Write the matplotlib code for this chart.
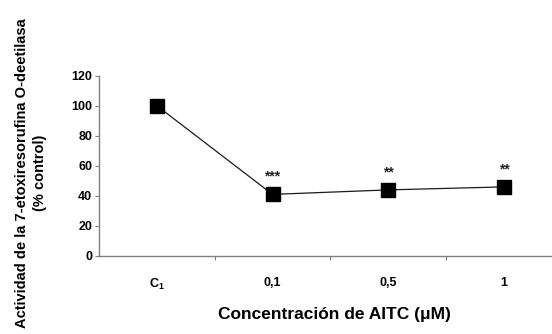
import matplotlib
matplotlib.use("Agg")
import matplotlib.pyplot as plt

plt.rcParams['font.family'] = ['Liberation Sans', 'DejaVu Sans']
plt.rcParams['font.weight'] = 'bold'
plt.rcParams['mathtext.default'] = 'regular'

categories = ["C$_1$", "0,1", "0,5", "1"]
actividad = [100, 41, 44, 46]
significancia = ["", "***", "**", "**"]
y_ticks = [0, 20, 40, 60, 80, 100, 120]

fig = plt.figure(figsize=(5.52, 3.34), dpi=100)
ax = fig.add_axes([99 / 552, 1 - 256 / 334, 1 - 99 / 552, (256 - 75.7) / 334])

x = list(range(len(categories)))
ax.plot(x, actividad, color='#1a1a1a', linewidth=0.9, marker='s',
        markersize=9.5, markerfacecolor='black', markeredgecolor='black')

for xi, yi, s in zip(x, actividad, significancia):
    if s:
        ax.text(xi, yi + 7, s, ha='center', va='bottom', fontsize=10,
                fontweight='bold', color='#222222')

ax.set_xlim(-0.5, 3.415)
ax.set_ylim(0, 120)
ax.set_yticks(y_ticks)
ax.set_yticklabels([str(v) for v in y_ticks], fontsize=9, fontweight='bold')
ax.set_xticks(x)
ax.set_xticklabels(categories, fontsize=9, fontweight='bold')
ax.set_xticks([0.5, 1.5, 2.5], minor=True)

ax.tick_params(axis='x', which='major', length=0, pad=15)
ax.tick_params(axis='x', which='minor', length=3, width=0.8, color='#808080', direction='out')
ax.tick_params(axis='y', which='major', length=3, width=0.8, color='#808080', direction='out', pad=2)

for side in ('top', 'right'):
    ax.spines[side].set_visible(False)
for side in ('left', 'bottom'):
    ax.spines[side].set_color('#808080')
    ax.spines[side].set_linewidth(1.0)

ax.set_xlabel("Concentración de AITC (μM)", fontsize=12.5, fontweight='bold')
ax.xaxis.set_label_coords((334 - 99) / 453, -(314 - 256) / (256 - 75.7))
ax.xaxis.label.set_verticalalignment('center')

fig.text(31 / 552, 1 - 173 / 334,
         "Actividad de la 7-etoxiresorufina O-deetilasa\n(% control)",
         rotation=90, ha='center', va='center', fontsize=10.5, fontweight='bold',
         multialignment='center', linespacing=1.3)

fig.savefig("out.png", dpi=100)
